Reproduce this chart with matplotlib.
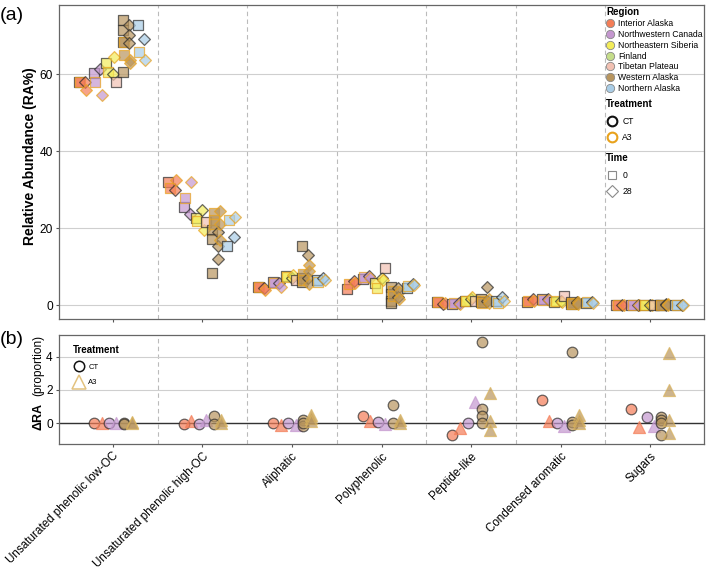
import matplotlib.pyplot as plt
import matplotlib as mpl
import numpy as np
from matplotlib.lines import Line2D

mpl.rcParams.update({
    'font.family': ['Liberation Sans', 'DejaVu Sans'],
    'font.size': 9,
})

categories = ['Unsaturated phenolic low-OC', 'Unsaturated phenolic high-OC', 'Aliphatic',
              'Polyphenolic', 'Peptide-like', 'Condensed aromatic', 'Sugars']
regions = ['Interior Alaska', 'Northwestern Canada', 'Northeastern Siberia', 'Finland',
           'Tibetan Plateau', 'Western Alaska', 'Northern Alaska']
region_colors = ['#F47D57', '#C497CF', '#F3EC5A', '#C5DD8A', '#F2C1B3', '#B8955E', '#A9CDE6']

# ---- panel (a): relative abundance (%), one entry per compound class ----
# Interior Alaska
ia_t0_ct = [58.0, 32.0, 4.6, 4.1, 0.9, 0.8, 0.1]
ia_t0_a3 = [58.0, 30.4, 4.8, 5.5, 0.8, 1.0, 0.1]
ia_t28_ct = [58.0, 29.9, 4.5, 6.2, 0.3, 1.5, 0.1]
ia_t28_a3 = [55.9, 32.5, 4.0, 5.7, 0.6, 1.2, 0.1]
# Northwestern Canada
nwc_t0_ct = [60.3, 25.5, 6.0, 6.8, 0.4, 1.5, 0.1]
nwc_t0_a3 = [58.0, 27.8, 5.8, 7.2, 0.5, 1.4, 0.1]
nwc_t28_ct = [61.3, 23.6, 5.7, 7.5, 0.6, 1.6, 0.1]
nwc_t28_a3 = [54.5, 32.0, 4.7, 7.0, 0.3, 1.3, 0.1]
# Northeastern Siberia
nes_t0_ct = [62.8, 22.6, 7.5, 5.7, 1.0, 0.8, 0.0]
nes_t0_a3 = [60.6, 21.8, 7.2, 4.5, 1.2, 1.0, 0.0]
nes_t28_ct = [60.0, 24.7, 7.0, 7.0, 1.5, 1.0, 0.1]
nes_t28_a3 = [64.5, 19.5, 7.8, 6.5, 2.2, 0.8, 0.1]
# Tibetan Plateau
tp_t0_ct = [58.0, 21.6, 6.5, 9.7, 1.0, 2.3, 0.1]
# Western Alaska (several cores)
wa_t0_ct = [[74.2, 71.4, 68.4, 60.6], [19.5, 17.1, 8.4], [15.3, 7.0, 6.0], [4.8, 3.0, 1.0, 0.5],
            [1.5, 0.8], [0.8, 0.3], [0.1, 0.0]]
wa_t0_a3 = [[68.4, 64.9], [24.0, 22.0, 21.0], [8.0, 6.5], [3.8, 2.5], [1.0, 0.5], [0.6, 0.2], [0.1]]
wa_t28_ct = [[72.7, 70.1, 68.0], [19.0, 15.3, 11.9], [13.0, 7.0], [4.5, 2.0], [4.8, 1.2],
             [0.8, 0.5], [0.2, 0.0]]
wa_t28_a3 = [[63.6, 63.0], [24.4, 21.0, 17.0], [10.5, 9.0, 5.5], [3.5, 1.5], [1.5, 0.6],
             [0.9, 0.3], [0.2, 0.1]]
# Northern Alaska
na_t0_ct = [72.7, 15.3, 6.5, 4.5, 1.0, 0.5, 0.0]
na_t0_a3 = [65.8, 22.1, 6.0, 5.0, 0.5, 0.8, 0.0]
na_t28_ct = [69.2, 17.6, 7.0, 5.5, 2.0, 0.8, 0.1]
na_t28_a3 = [63.6, 22.9, 6.5, 5.2, 1.2, 0.6, 0.0]

# ---- panel (b): change in RA (proportion) ----
d_ia_ct = [0.0, -0.05, 0.0, 0.44, -0.72, 1.36, 0.82]
d_ia_a3 = [0.0, 0.15, -0.1, 0.1, -0.32, 0.1, -0.25]
d_nwc_ct = [0.0, -0.05, 0.0, 0.05, 0.0, 0.02, 0.34]
d_nwc_a3 = [0.0, 0.2, -0.1, -0.05, 1.28, -0.2, -0.2]
d_wa_ct = [[0.0, -0.05], [0.4, -0.05], [0.2, -0.2, 0.0], [1.08, 0.0], [4.85, 0.82, 0.45, 0.0],
           [4.3, 0.05, -0.1], [0.35, 0.2, 0.0, -0.7]]
d_wa_a3 = [[0.05, 0.0], [0.2, 0.0], [0.5, 0.3, 0.1], [0.2, 0.0], [1.82, 0.1, -0.4],
           [0.5, 0.2, 0.0], [4.24, 1.98, 0.2, -0.6]]

ct_edge = '#2b2b2b'
a3_edge = '#E8A21C'
grid_c = '#CFCFCF'
sep_c = '#BBBBBB'


def draw(ax, values, offset, marker, size, face, edge):
    for i, v in enumerate(values):
        vals = np.atleast_1d(v)
        ax.scatter(np.full(len(vals), i + 1 + offset), vals, marker=marker, s=size,
                   facecolor=face, edgecolor=edge, linewidths=0.9, alpha=0.7, zorder=3)


def style(ax):
    for sp in ax.spines.values():
        sp.set_color('#666666')
        sp.set_linewidth(0.9)
    ax.set_xlim(0.4, 7.6)
    ax.set_xticks(range(1, 8))
    for xv in np.arange(1.5, 7.5, 1):
        ax.axvline(xv, color=sep_c, ls=(0, (4, 3)), lw=0.8, zorder=1)
    ax.tick_params(length=2.5, pad=2, color='#555555', labelsize=8.6)


fig = plt.figure(figsize=(7.09, 5.70), dpi=100)
W, H = 709, 570
ax1 = fig.add_axes([59 / W, 1 - 319 / H, 645 / W, 314 / H])
ax2 = fig.add_axes([59 / W, 1 - 444 / H, 645 / W, 109 / H])

# panel (a)
ax1.set_ylim(-3.6, 78)
ax1.set_yticks([0, 20, 40, 60])
ax1.yaxis.grid(True, color=grid_c, lw=0.8, zorder=0)
style(ax1)
ax1.set_xticklabels([])

groups = [
    (0, [ia_t0_ct, ia_t0_a3, ia_t28_ct, ia_t28_a3], -0.34),
    (1, [nwc_t0_ct, nwc_t0_a3, nwc_t28_ct, nwc_t28_a3], -0.17),
    (2, [nes_t0_ct, nes_t0_a3, nes_t28_ct, nes_t28_a3], -0.03),
    (4, [tp_t0_ct, None, None, None], 0.08),
    (5, [wa_t0_ct, wa_t0_a3, wa_t28_ct, wa_t28_a3], 0.15),
    (6, [na_t0_ct, na_t0_a3, na_t28_ct, na_t28_a3], 0.32),
]
sub = [(-0.04, 's', 50, ct_edge), (-0.025, 's', 50, a3_edge),
       (0.03, 'D', 36, ct_edge), (0.045, 'D', 36, a3_edge)]
for ri, sets, off in groups:
    for vals, (so, mk, sz, ec) in zip(sets, sub):
        if vals is None:
            continue
        draw(ax1, vals, off + so, mk, sz, region_colors[ri], ec)

ax1.set_ylabel('Relative Abundance (RA%)', fontweight='bold', fontsize=10)
ax1.yaxis.set_label_coords(-0.034, 0.52)

# legends (a)
reg_h = [Line2D([], [], ls='', marker='o', ms=6, mfc=c, mec='#888888', mew=0.6) for c in region_colors]
leg1 = ax1.legend(reg_h, regions, title='Region', loc='upper left',
                  bbox_to_anchor=(606 / W, 1 - 7 / H), bbox_transform=fig.transFigure,
                  frameon=False, fontsize=6.2, title_fontproperties={'weight': 'bold', 'size': 7},
                  alignment='left', borderpad=0, handlelength=1.0, handletextpad=0.4,
                  labelspacing=0.22, borderaxespad=0)
ax1.add_artist(leg1)
trt_h = [Line2D([], [], ls='', marker='o', ms=7, mfc='none', mec='#111111', mew=1.5),
         Line2D([], [], ls='', marker='o', ms=7, mfc='none', mec='#E8A21C', mew=1.5)]
leg2 = ax1.legend(trt_h, ['CT', 'A3'], title='Treatment', loc='upper left',
                  bbox_to_anchor=(606 / W, 1 - 99 / H), bbox_transform=fig.transFigure,
                  frameon=False, fontsize=6.2, title_fontproperties={'weight': 'bold', 'size': 7},
                  alignment='left', borderpad=0, handlelength=1.3, handletextpad=0.6,
                  labelspacing=0.9, borderaxespad=0)
ax1.add_artist(leg2)
time_h = [Line2D([], [], ls='', marker='s', ms=6, mfc='none', mec='#8a8a8a', mew=0.8),
          Line2D([], [], ls='', marker='D', ms=6, mfc='none', mec='#8a8a8a', mew=0.8)]
ax1.legend(time_h, ['0', '28'], title='Time', loc='upper left',
           bbox_to_anchor=(606 / W, 1 - 153 / H), bbox_transform=fig.transFigure,
           frameon=False, fontsize=6.2, title_fontproperties={'weight': 'bold', 'size': 7},
           alignment='left', borderpad=0, handlelength=1.3, handletextpad=0.6,
           labelspacing=0.9, borderaxespad=0)

# panel (b)
ax2.set_ylim(-1.26, 5.3)
ax2.set_yticks([0, 2, 4])
ax2.yaxis.grid(True, color=grid_c, lw=0.8, zorder=0)
style(ax2)
ax2.axhline(0, color='#333333', lw=1.0, zorder=2)
draw(ax2, d_ia_ct, -0.21, 'o', 58, region_colors[0], ct_edge)
draw(ax2, d_ia_a3, -0.125, '^', 75, region_colors[0], region_colors[0])
draw(ax2, d_nwc_ct, -0.04, 'o', 58, region_colors[1], ct_edge)
draw(ax2, d_nwc_a3, 0.04, '^', 75, region_colors[1], region_colors[1])
draw(ax2, d_wa_ct, 0.125, 'o', 58, region_colors[5], ct_edge)
draw(ax2, d_wa_a3, 0.21, '^', 75, region_colors[5], '#D9B35C')
ax2.set_xticklabels(categories, rotation=45, ha='right', rotation_mode='anchor', fontsize=8.4)

leg_b = [Line2D([], [], ls='', marker='o', ms=7.5, mfc='none', mec='#111111', mew=1.1),
         Line2D([], [], ls='', marker='^', ms=10, mfc='none', mec='#E3C27F', mew=1.1)]
ax2.legend(leg_b, ['CT', 'A3'], title='Treatment', loc='upper left',
           bbox_to_anchor=(73 / W, 1 - 345 / H), bbox_transform=fig.transFigure,
           frameon=False, fontsize=5.5, title_fontproperties={'weight': 'bold', 'size': 7},
           alignment='left', borderpad=0, handlelength=1.5, handletextpad=0.5,
           labelspacing=1.1, borderaxespad=0)

fig.text(38 / W, 1 - 416 / H, '\u0394RA', rotation=90, fontweight='bold', fontsize=9,
         ha='center', va='center')
fig.text(38 / W, 1 - 365 / H, '(proportion)', rotation=90, fontsize=8.5, ha='center', va='center')

fig.text(12 / W, 1 - 15 / H, '(a)', fontsize=14, ha='center', va='center')
fig.text(12 / W, 1 - 340 / H, '(b)', fontsize=14, ha='center', va='center')

plt.savefig('out.png', dpi=100)
